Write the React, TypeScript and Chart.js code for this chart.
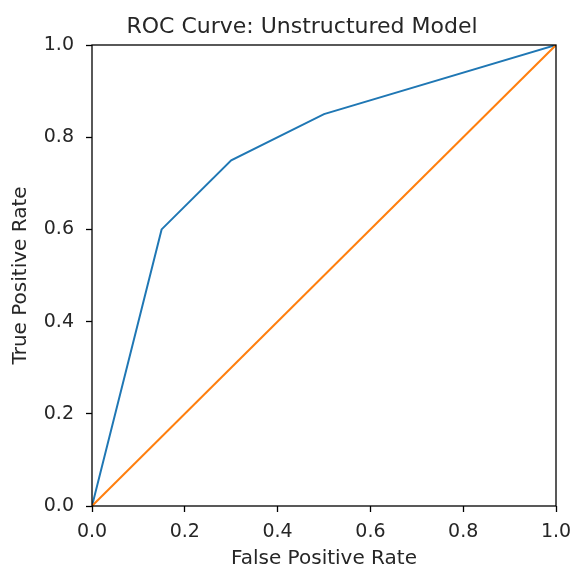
import React, { useEffect, useRef } from "react";
import { Chart, registerables } from "chart.js";

Chart.register(...registerables);

const chartTitle = "ROC Curve: Unstructured Model";
const xAxisTitle = "False Positive Rate";
const yAxisTitle = "True Positive Rate";
const fpr = [0, 0.15, 0.3, 0.5, 1];
const tpr = [0, 0.6, 0.75, 0.85, 1];
const diagX = [0, 1];
const diagY = [0, 1];

const W = 571;
const H = 569;
const FONT = "'DejaVu Sans', sans-serif";
const TEXT = "#262626";

const framePlugin = {
  id: "frameAndTitle",
  afterDatasetsDraw(chart: any) {
    const { ctx, chartArea } = chart;
    ctx.save();
    ctx.strokeStyle = "#000";
    ctx.lineWidth = 1.3;
    ctx.strokeRect(chartArea.left, chartArea.top, chartArea.right - chartArea.left, chartArea.bottom - chartArea.top);
    ctx.restore();
  },
  afterDraw(chart: any) {
    const { ctx } = chart;
    ctx.save();
    ctx.fillStyle = TEXT;
    ctx.font = `22px ${FONT}`;
    ctx.textAlign = "center";
    ctx.textBaseline = "alphabetic";
    ctx.fillText(chartTitle, 302, 33);
    ctx.restore();
  },
};

export default function App() {
  const ref = useRef<HTMLCanvasElement | null>(null);
  useEffect(() => {
    if (!ref.current) return;
    const chart = new Chart(ref.current, {
      type: "line",
      data: {
        datasets: [
          {
            data: fpr.map((x, i) => ({ x, y: tpr[i] })),
            borderColor: "#1f77b4",
            borderWidth: 2,
            pointRadius: 0,
            tension: 0,
            fill: false,
            order: 2,
          },
          {
            data: diagX.map((x, i) => ({ x, y: diagY[i] })),
            borderColor: "#ff7f0e",
            borderWidth: 2,
            pointRadius: 0,
            tension: 0,
            fill: false,
            order: 1,
          },
        ],
      },
      options: {
        animation: false,
        responsive: false,
        events: [],
        layout: { padding: { left: 0, right: 15, top: 45, bottom: 0 } },
        plugins: { legend: { display: false }, title: { display: false }, tooltip: { enabled: false } },
        scales: {
          x: {
            type: "linear",
            min: 0,
            max: 1,
            afterFit: (s: any) => { s.height = 63; s.paddingLeft = 0; s.paddingRight = 0; },
            border: { display: false },
            grid: { display: true, drawOnChartArea: false, drawTicks: true, tickLength: 6, tickColor: "#000", tickWidth: 1.3 },
            ticks: {
              stepSize: 0.2,
              padding: 9,
              color: TEXT,
              font: { family: FONT, size: 19 },
              maxRotation: 0,
              callback: (v: any) => Number(v).toFixed(1),
            },
            title: { display: true, text: xAxisTitle, color: TEXT, font: { family: FONT, size: 20 }, padding: { top: 0, bottom: -2 } },
          },
          y: {
            type: "linear",
            min: 0,
            max: 1,
            afterFit: (s: any) => { s.width = 92; s.paddingTop = 0; s.paddingBottom = 0; },
            border: { display: false },
            grid: { display: true, drawOnChartArea: false, drawTicks: true, tickLength: 6, tickColor: "#000", tickWidth: 1.3 },
            ticks: {
              stepSize: 0.2,
              padding: 12,
              color: TEXT,
              font: { family: FONT, size: 19 },
              callback: (v: any) => Number(v).toFixed(1),
            },
            title: { display: true, text: yAxisTitle, color: TEXT, font: { family: FONT, size: 20 }, padding: { top: 9, bottom: 0 } },
          },
        },
      },
      plugins: [framePlugin],
    });
    return () => chart.destroy();
  }, []);
  return (
    <div style={{ position: "absolute", left: 0, top: 0, width: W, height: H, background: "#fff" }}>
      <canvas ref={ref} width={W} height={H} style={{ display: "block" }} />
    </div>
  );
}
